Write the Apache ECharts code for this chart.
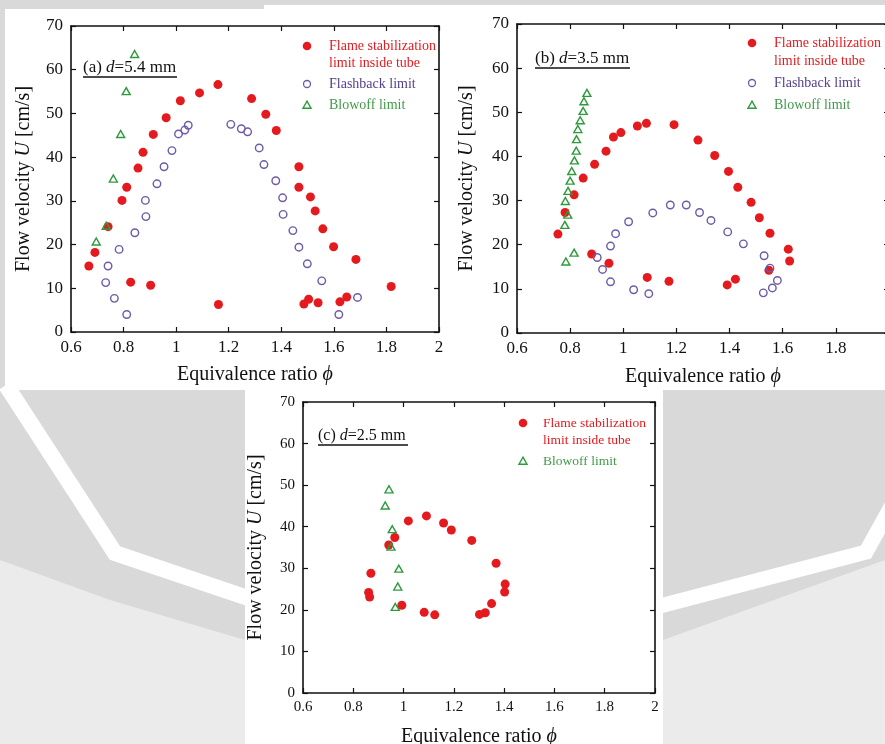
<!DOCTYPE html>
<html><head><meta charset="utf-8">
<script src="https://cdn.jsdelivr.net/npm/echarts@6/dist/echarts.min.js"></script>
<style>html,body{margin:0;padding:0;background:#d9d9d9}#c{width:885px;height:744px}</style>
</head><body><div id="c"></div><script>
// ---- data (phi, U [cm/s]) ----
const xTicks = [0.6, 0.8, 1, 1.2, 1.4, 1.6, 1.8, 2];
const yTicks = [0, 10, 20, 30, 40, 50, 60, 70];
const seriesNames = ['Flame stabilization\nlimit inside tube', 'Flashback limit', 'Blowoff limit'];
const panelLabels = ['(a) {i|d}=5.4 mm', '(b) {i|d}=3.5 mm', '(c) {i|d}=2.5 mm'];

const flameA = [[0.668,15.1],[0.691,18.2],[0.741,24.1],[0.794,30.1],[0.812,33.1],[0.855,37.5],[0.874,41.1],[0.913,45.2],[0.962,49.0],[1.016,52.9],[1.089,54.7],[1.159,56.6],[1.287,53.4],[1.341,49.8],[1.381,46.1],[1.467,37.8],[1.467,33.1],[1.511,30.9],[1.529,27.7],[1.558,23.6],[1.599,19.5],[1.684,16.6],[1.818,10.4],[0.827,11.4],[0.903,10.7],[1.161,6.3],[1.486,6.4],[1.504,7.5],[1.540,6.7],[1.623,6.9],[1.649,8.0]];
const flashA = [[0.732,11.3],[0.741,15.1],[0.765,7.7],[0.783,18.9],[0.812,4.0],[0.843,22.7],[0.883,30.1],[0.885,26.4],[0.927,33.9],[0.954,37.8],[0.984,41.5],[1.009,45.3],[1.033,46.2],[1.046,47.3],[1.208,47.5],[1.248,46.5],[1.272,45.8],[1.316,42.1],[1.334,38.3],[1.379,34.6],[1.405,30.7],[1.407,26.9],[1.444,23.2],[1.467,19.4],[1.499,15.6],[1.554,11.7],[1.619,4.0],[1.690,7.9]];
const blowA = [[0.696,20.7],[0.734,24.3],[0.761,35.1],[0.789,45.3],[0.810,55.1],[0.842,63.6]];

const flameB = [[0.754,22.4],[0.781,27.3],[0.815,31.3],[0.849,35.1],[0.892,38.2],[0.935,41.2],[0.963,44.4],[0.991,45.4],[1.053,46.9],[1.087,47.5],[1.191,47.2],[1.281,43.7],[1.344,40.2],[1.396,36.6],[1.431,33.0],[1.481,29.6],[1.512,26.1],[1.552,22.6],[1.621,19.0],[1.626,16.3],[1.548,14.2],[1.422,12.2],[1.391,10.9],[1.172,11.7],[1.090,12.6],[0.946,15.8],[0.881,17.9]];
const flashB = [[0.902,17.1],[0.922,14.4],[0.952,19.7],[0.971,22.5],[0.952,11.6],[1.020,25.2],[1.039,9.8],[1.096,8.9],[1.111,27.2],[1.177,29.0],[1.237,29.0],[1.287,27.3],[1.330,25.5],[1.393,22.9],[1.452,20.2],[1.530,17.5],[1.552,14.7],[1.580,11.9],[1.561,10.2],[1.527,9.1]];
const blowB = [[0.863,54.4],[0.852,52.5],[0.849,50.3],[0.838,48.2],[0.829,46.2],[0.824,43.9],[0.823,41.3],[0.816,39.1],[0.806,36.7],[0.800,34.5],[0.792,32.2],[0.782,29.9],[0.791,26.8],[0.780,24.5],[0.815,18.2],[0.784,16.2]];

const flameC = [[0.870,28.8],[0.861,24.2],[0.865,23.1],[0.941,35.6],[0.965,37.4],[0.993,21.1],[1.019,41.4],[1.091,42.6],[1.082,19.4],[1.124,18.8],[1.159,40.9],[1.190,39.2],[1.271,36.7],[1.368,31.2],[1.404,26.2],[1.402,24.3],[1.350,21.5],[1.325,19.3],[1.302,18.9]];
const blowC = [[0.942,49.0],[0.927,45.1],[0.955,39.4],[0.950,35.2],[0.981,29.9],[0.977,25.6],[0.967,20.7]];

// ---- styles ----
const FONT = '"Liberation Serif", "Times New Roman", serif';
const RED = '#e41a1f', PUR = '#6d5aa8', GRN = '#2f9a3c';
const PURT = '#54408c', GRNT = '#3f9c48';
const INK = '#111';

const grids = [
  {left: 71, top: 26, width: 368, height: 306, fs: 17, xGap: 33, yGap: 37},
  {left: 517, top: 24, width: 372, height: 309, fs: 17, xGap: 34, yGap: 40},
  {left: 303, top: 402, width: 352, height: 291, fs: 15, xGap: 34, yGap: 37}
];

const xAxis = [], yAxis = [];
grids.forEach((g, i) => {
  const line = {show: true, onZero: false, lineStyle: {color: INK, width: 1.6}};
  const tick = {show: true, inside: true, length: 5, lineStyle: {color: INK, width: 1.2}};
  const nts = {fontFamily: FONT, fontSize: 20, color: INK, rich: {i: {fontFamily: FONT, fontSize: 20, fontStyle: 'italic', color: INK}}};
  xAxis.push({gridIndex: i, type: 'value', min: xTicks[0], max: xTicks[xTicks.length-1], interval: 0.2, position: 'bottom',
    axisLine: line, axisTick: tick, splitLine: {show: false},
    axisLabel: {fontFamily: FONT, fontSize: g.fs, color: INK, margin: 7, hideOverlap: false, formatter: v => String(+v.toFixed(1))},
    name: 'Equivalence ratio {i|\u03D5}', nameLocation: 'middle', nameGap: g.xGap, nameTextStyle: nts});
  xAxis.push({gridIndex: i, type: 'value', min: xTicks[0], max: xTicks[xTicks.length-1], interval: 0.2, position: 'top',
    axisLine: line, axisTick: tick, splitLine: {show: false}, axisLabel: {show: false}});
  yAxis.push({gridIndex: i, type: 'value', min: yTicks[0], max: yTicks[yTicks.length-1], interval: 10, position: 'left',
    axisLine: line, axisTick: tick, splitLine: {show: false},
    axisLabel: {fontFamily: FONT, fontSize: g.fs, color: INK, margin: 8},
    name: 'Flow velocity {i|U} [cm/s]', nameLocation: 'middle', nameGap: g.yGap, nameTextStyle: nts});
  yAxis.push({gridIndex: i, type: 'value', min: yTicks[0], max: yTicks[yTicks.length-1], interval: 10, position: 'right',
    axisLine: line, axisTick: tick, splitLine: {show: false}, axisLabel: {show: false}});
});

function flame(gi, data) { return {type: 'scatter', name: seriesNames[0], xAxisIndex: gi*2, yAxisIndex: gi*2, data,
  symbol: 'circle', symbolSize: 9, itemStyle: {color: RED, opacity: 1}, z: 3}; }
function flash(gi, data) { return {type: 'scatter', name: seriesNames[1], xAxisIndex: gi*2, yAxisIndex: gi*2, data,
  symbol: 'circle', symbolSize: 7.5, itemStyle: {color: 'rgba(255,255,255,0)', borderColor: PUR, borderWidth: 1.4, opacity: 1}, z: 4}; }
function blow(gi, data) { return {type: 'scatter', name: seriesNames[2], xAxisIndex: gi*2, yAxisIndex: gi*2, data,
  symbol: 'triangle', symbolSize: [8, 7], itemStyle: {color: 'rgba(255,255,255,0)', borderColor: GRN, borderWidth: 1.4, opacity: 1}, z: 5}; }

const series = [flame(0, flameA), flash(0, flashA), blow(0, blowA),
                flame(1, flameB), flash(1, flashB), blow(1, blowB),
                flame(2, flameC), blow(2, blowC)];

// ---- decorations: background panels, panel labels, legends ----
const g = [];
g.push({type: 'rect', z: -20, shape: {x: 5, y: 9, width: 259, height: 381}, style: {fill: '#fff'}});
g.push({type: 'rect', z: -20, shape: {x: 264, y: 5, width: 621, height: 385}, style: {fill: '#fff'}});
g.push({type: 'polygon', z: -21, shape: {points: [[0,560],[110,600],[245,640],[245,744],[0,744]]}, style: {fill: '#ebebeb'}});
g.push({type: 'polyline', z: -19, shape: {points: [[6,385],[115,553],[248,598]]}, style: {stroke: '#fff', lineWidth: 16, fill: null}});
g.push({type: 'polygon', z: -21, shape: {points: [[663,640],[885,560],[885,744],[663,744]]}, style: {fill: '#ebebeb'}});
g.push({type: 'polyline', z: -19, shape: {points: [[660,606],[866,552],[892,505]]}, style: {stroke: '#fff', lineWidth: 15, fill: null}});
g.push({type: 'rect', z: -18, shape: {x: 245, y: 388, width: 418, height: 356}, style: {fill: '#fff'}});

const labelPos = [{x: 83, y: 68, w: 94, fs: 17}, {x: 535, y: 59, w: 95, fs: 17}, {x: 318, y: 436, w: 90, fs: 16}];
labelPos.forEach((p, i) => {
  g.push({type: 'text', z: 10, x: p.x, y: p.y, style: {text: panelLabels[i], fontFamily: FONT, fontSize: p.fs, fill: INK,
    verticalAlign: 'middle', rich: {i: {fontFamily: FONT, fontSize: p.fs, fontStyle: 'italic', fill: INK}}}});
  g.push({type: 'line', z: 10, shape: {x1: p.x, y1: p.y + 9, x2: p.x + p.w, y2: p.y + 9}, style: {stroke: INK, lineWidth: 1.3}});
});

function legend(mx, tx, rows, fs, withFlash) {
  g.push({type: 'circle', z: 10, shape: {cx: mx, cy: rows[0], r: 4.3}, style: {fill: RED}});
  g.push({type: 'text', z: 10, x: tx, y: rows[0], style: {text: 'Flame stabilization', fontFamily: FONT, fontSize: fs, fill: RED, verticalAlign: 'middle'}});
  g.push({type: 'text', z: 10, x: tx, y: rows[1], style: {text: 'limit inside tube', fontFamily: FONT, fontSize: fs, fill: RED, verticalAlign: 'middle'}});
  if (withFlash) {
    g.push({type: 'circle', z: 10, shape: {cx: mx, cy: rows[2], r: 3.5}, style: {fill: '#fff', stroke: PUR, lineWidth: 1.3}});
    g.push({type: 'text', z: 10, x: tx, y: rows[2], style: {text: 'Flashback limit', fontFamily: FONT, fontSize: fs, fill: PURT, verticalAlign: 'middle'}});
  }
  const by = rows[3];
  g.push({type: 'polygon', z: 10, shape: {points: [[mx, by-3.8], [mx+4, by+3.2], [mx-4, by+3.2]]}, style: {fill: 'none', stroke: GRN, lineWidth: 1.4}});
  g.push({type: 'text', z: 10, x: tx, y: by, style: {text: 'Blowoff limit', fontFamily: FONT, fontSize: fs, fill: GRNT, verticalAlign: 'middle'}});
}
legend(307, 329, [46, 63, 84, 105], 14, true);
legend(752, 774, [43, 61, 83, 105], 14, true);
legend(523, 543, [423, 440, 0, 461], 13.5, false);

const chart = echarts.init(document.getElementById('c'), null, {renderer: 'canvas'});
chart.setOption({
  backgroundColor: '#d9d9d9',
  animation: false,
  grid: grids.map(gr => ({left: gr.left, top: gr.top, width: gr.width, height: gr.height, show: false, outerBoundsMode: 'none', containLabel: false})),
  xAxis, yAxis, series,
  graphic: {elements: g}
});
</script></body></html>
